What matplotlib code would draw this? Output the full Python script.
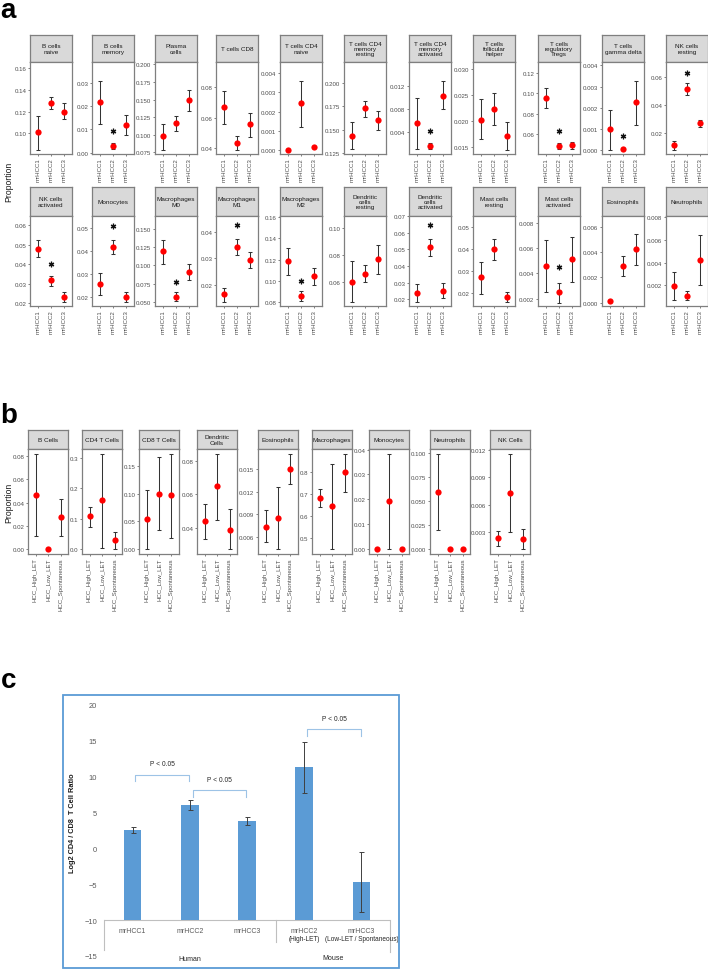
import numpy as np
import matplotlib
matplotlib.use('Agg')
import matplotlib.pyplot as plt
from matplotlib.patches import Rectangle

plt.rcParams['font.family'] = ['Liberation Sans', 'DejaVu Sans']

# ---------------------------------------------------------------- data: panel a
a_groups = ['mrHCC1', 'mrHCC2', 'mrHCC3']
a_titles = ['B cells\nnaive', 'B cells\nmemory', 'Plasma\ncells', 'T cells CD8',
            'T cells CD4\nnaive', 'T cells CD4\nmemory\nresting',
            'T cells CD4\nmemory\nactivated', 'T cells\nfollicular\nhelper',
            'T cells\nregulatory\nTregs', 'T cells\ngamma delta', 'NK cells\nresting',
            'NK cells\nactivated', 'Monocytes', 'Macrophages\nM0', 'Macrophages\nM1',
            'Macrophages\nM2', 'Dendritic\ncells\nresting', 'Dendritic\ncells\nactivated',
            'Mast cells\nresting', 'Mast cells\nactivated', 'Eosinophils', 'Neutrophils']
a_mean = [[0.101, 0.128, 0.120], [0.0218, 0.0027, 0.0120], [0.0977, 0.116, 0.149],
          [0.0666, 0.0433, 0.0554], [0.0, 0.00243, 0.00014], [0.143, 0.1728, 0.160],
          [0.0055, 0.0015, 0.0103], [0.0203, 0.0224, 0.0172], [0.0948, 0.0485, 0.0488],
          [0.00098, 0.00006, 0.00225], [0.0111, 0.0518, 0.0267],
          [0.0479, 0.0317, 0.0233], [0.0258, 0.042, 0.0202], [0.119, 0.0577, 0.091],
          [0.0163, 0.0343, 0.0292], [0.1185, 0.0855, 0.1045], [0.060, 0.066, 0.0767],
          [0.024, 0.0514, 0.0252], [0.027, 0.0397, 0.0183], [0.00462, 0.0025, 0.00514],
          [0.0001, 0.00291, 0.0042], [0.00197, 0.00107, 0.00425]]
a_low = [[0.085, 0.122, 0.113], [0.0124, 0.0016, 0.0077], [0.079, 0.106, 0.134],
         [0.0554, 0.0387, 0.0475], [0.0, 0.0012, 0.00014], [0.129, 0.164, 0.149],
         [0.0009, 0.0009, 0.0079], [0.0166, 0.0193, 0.0145], [0.0852, 0.0452, 0.0452],
         [0.0, 0.00006, 0.0012], [0.0077, 0.0475, 0.0244],
         [0.0436, 0.0288, 0.0207], [0.0208, 0.0388, 0.018], [0.1015, 0.0514, 0.080],
         [0.0133, 0.0311, 0.0261], [0.105, 0.0805, 0.096], [0.045, 0.060, 0.066],
         [0.0182, 0.0458, 0.021], [0.0196, 0.035, 0.016], [0.00255, 0.00168, 0.00335],
         [0.0001, 0.00213, 0.00296], [0.00073, 0.00067, 0.002]]
a_high = [[0.116, 0.133, 0.128], [0.0309, 0.004, 0.0163], [0.115, 0.127, 0.164],
          [0.0774, 0.0477, 0.0631], [0.0, 0.0036, 0.00014], [0.158, 0.1808, 0.1696],
          [0.0099, 0.0020, 0.0129], [0.0242, 0.0255, 0.0198], [0.1046, 0.0511, 0.0518],
          [0.0019, 0.00006, 0.00326], [0.0142, 0.056, 0.0294],
          [0.0525, 0.034, 0.0258], [0.0306, 0.0449, 0.0225], [0.135, 0.0641, 0.1025],
          [0.0188, 0.0374, 0.0323], [0.131, 0.0905, 0.112], [0.075, 0.0724, 0.0874],
          [0.029, 0.0564, 0.0296], [0.0338, 0.0446, 0.0206], [0.00665, 0.00324, 0.0069],
          [0.0001, 0.00366, 0.00542], [0.00314, 0.00148, 0.00643]]
# significance star above mrHCC2 (None = no star)
a_star = [None, 0.0094, None, None, None, None, 0.0042, None, 0.0633, 0.00065, 0.063,
          0.040, 0.051, 0.078, 0.0424, 0.100, None, 0.0644, None, 0.00449, None, None]
a_ylim = [(0.081, 0.1655), (-0.0006, 0.039), (0.0727, 0.2033), (0.036, 0.0965),
          (-0.0002, 0.00457), (0.1236, 0.2228), (0.0001, 0.0162), (0.0137, 0.0314),
          (0.0403, 0.1305), (-0.00019, 0.00416), (0.0046, 0.0711),
          (0.0185, 0.0648), (0.0162, 0.0554), (0.045, 0.167), (0.0119, 0.0459),
          (0.0762, 0.161), (0.042, 0.1085), (0.016, 0.070), (0.0141, 0.0548),
          (0.00142, 0.00855), (-0.00026, 0.00683), (0.00017, 0.00813)]
a_yticks = [[0.10, 0.12, 0.14, 0.16], [0, 0.01, 0.02, 0.03],
            [0.075, 0.1, 0.125, 0.15, 0.175, 0.2], [0.04, 0.06, 0.08],
            [0, 0.001, 0.002, 0.003, 0.004], [0.125, 0.15, 0.175, 0.2],
            [0.004, 0.008, 0.012], [0.015, 0.02, 0.025, 0.03], [0.06, 0.08, 0.1, 0.12],
            [0, 0.001, 0.002, 0.003, 0.004], [0.02, 0.04, 0.06],
            [0.02, 0.03, 0.04, 0.05, 0.06], [0.02, 0.03, 0.04, 0.05],
            [0.05, 0.075, 0.1, 0.125, 0.15], [0.02, 0.03, 0.04],
            [0.08, 0.1, 0.12, 0.14, 0.16], [0.06, 0.08, 0.1],
            [0.02, 0.03, 0.04, 0.05, 0.06, 0.07], [0.02, 0.03, 0.04, 0.05],
            [0.002, 0.004, 0.006, 0.008], [0, 0.002, 0.004, 0.006],
            [0.002, 0.004, 0.006, 0.008]]

# ---------------------------------------------------------------- data: panel b
b_groups = ['HCC_High_LET', 'HCC_Low_LET', 'HCC_Spontaneous']
b_titles = ['B Cells', 'CD4 T Cells', 'CD8 T Cells', 'Dendritic\nCells', 'Eosinophils',
            'Macrophages', 'Monocytes', 'Neutrophils', 'NK Cells']
b_mean = [[0.0466, 0.0, 0.0277], [0.109, 0.160, 0.030], [0.054, 0.100, 0.0971],
          [0.0438, 0.065, 0.0388], [0.0073, 0.0085, 0.0151], [0.68, 0.644, 0.796],
          [0.0, 0.0193, 0.0], [0.059, 0.0, 0.0], [0.0023, 0.0073, 0.0022]]
b_low = [[0.0114, 0.0, 0.0114], [0.074, 0.0055, 0.0], [0.0, 0.0355, 0.0203],
         [0.0334, 0.0449, 0.027], [0.0053, 0.0043, 0.0131], [0.642, 0.45, 0.709],
         [0.0, 0.0, 0.0], [0.0196, 0.0, 0.0], [0.0015, 0.0030, 0.0011]]
b_high = [[0.082, 0.0, 0.0435], [0.139, 0.313, 0.0566], [0.1067, 0.166, 0.172],
          [0.0543, 0.0845, 0.051], [0.0095, 0.0126, 0.0171], [0.723, 0.836, 0.88],
          [0.0, 0.0383, 0.0], [0.0987, 0.0, 0.0], [0.0031, 0.0116, 0.0033]]
b_yticks = [[0, 0.02, 0.04, 0.06, 0.08], [0, 0.1, 0.2, 0.3], [0, 0.05, 0.1, 0.15],
            [0.04, 0.06, 0.08], [0.006, 0.009, 0.012, 0.015], [0.5, 0.6, 0.7, 0.8],
            [0, 0.01, 0.02, 0.03, 0.04], [0, 0.025, 0.05, 0.075, 0.1],
            [0.003, 0.006, 0.009, 0.012]]

# ---------------------------------------------------------------- data: panel c
c_labels = ['mrHCC1', 'mrHCC2', 'mrHCC3', 'mrHCC2', 'mrHCC3']
c_sublabels = ['', '', '', '(High-LET)', '(Low-LET / Spontaneous)']
c_species = ['Human', 'Mouse']
c_values = [2.6, 6.05, 3.85, 11.3, -4.65]
c_err = [0.45, 0.7, 0.6, 3.6, 4.2]
c_pvals = [(1, 2, 10.3), (2, 3, 8.1), (4, 5, 16.6)]   # (from, to, bracket height)

# ---------------------------------------------------------------- layout helpers
W, H = 708, 970
fig = plt.figure(figsize=(W / 100, H / 100), dpi=100)

GREY = '#4D4D4D'


def box(x, y, w, h):
    # pixel box measured from the top-left corner -> figure fraction
    return [x / W, 1 - (y + h) / H, w / W, h / H]


def fmt_ticks(ticks):
    for d in range(0, 6):
        if all(abs(round(t, d) - t) < 1e-9 for t in ticks):
            break
    return ['{:.{}f}'.format(t, d) for t in ticks]


def facet(left, top, width, strip_h, panel_h, title, mean, low, high, ylim, yticks,
          xlabels, star=None):
    sax = fig.add_axes(box(left, top, width, strip_h))
    sax.set_facecolor('#D9D9D9')
    sax.set_xticks([])
    sax.set_yticks([])
    for s in sax.spines.values():
        s.set_color('#7F7F7F')
        s.set_linewidth(0.9)
    sax.text(0.5, 0.5, title, ha='center', va='center', fontsize=4.6, color='#1A1A1A',
             transform=sax.transAxes, linespacing=1.1)

    ax = fig.add_axes(box(left, top + strip_h, width, panel_h))
    x = np.arange(1, 4)
    mean = np.array(mean)
    yerr = [mean - np.array(low), np.array(high) - mean]
    ax.errorbar(x, mean, yerr=yerr, fmt='none', ecolor='#333333', elinewidth=0.75,
                capsize=1.4, capthick=0.75, zorder=2)
    ax.plot(x, mean, 'o', color='#FF0000', ms=4.5, mec='none', zorder=3)
    if star is not None:
        ax.plot(2, star, marker=(6, 2, 0), color='#111111', ms=4, mew=0.9, zorder=3)
    ax.set_xlim(0.4, 3.6)
    ax.set_ylim(*ylim)
    ax.set_xticks(x)
    ax.set_xticklabels(xlabels, rotation=90)
    ax.set_yticks(yticks)
    ax.set_yticklabels(fmt_ticks(yticks))
    ax.tick_params(axis='both', length=1.6, width=0.5, color=GREY, labelsize=4.4,
                   labelcolor=GREY, pad=1)
    for s in ax.spines.values():
        s.set_color('#7F7F7F')
        s.set_linewidth(0.9)
    return ax


# ---------------------------------------------------------------- panel a
a_left = [30, 92, 155, 216, 280, 344, 409, 473, 538, 602, 666]
for i in range(len(a_titles)):
    row, col = divmod(i, 11)
    if row == 0:
        top, sh, ph = 36, 27, 92
    else:
        top, sh, ph = 188, 29, 90
    facet(a_left[col], top, 42, sh, ph, a_titles[i], a_mean[i], a_low[i], a_high[i],
          a_ylim[i], a_yticks[i], a_groups, a_star[i])

fig.text(9 / W, 1 - 182 / H, 'Proportion', rotation=90, ha='center', va='center',
         fontsize=6.2, color='#1A1A1A')
fig.text(0, 1 - 18 / H, 'a', fontsize=20, fontweight='bold', ha='left', va='baseline')

# ---------------------------------------------------------------- panel b
b_left = [28, 82, 139, 197, 258, 312, 369, 430, 490]
for i in range(len(b_titles)):
    lo, hi = min(b_low[i]), max(b_high[i])
    pad = (hi - lo) * 0.05
    facet(b_left[i], 431, 40, 19, 105, b_titles[i], b_mean[i], b_low[i], b_high[i],
          (lo - pad, hi + pad), b_yticks[i], b_groups)

fig.text(9 / W, 1 - 503 / H, 'Proportion', rotation=90, ha='center', va='center',
         fontsize=6.2, color='#1A1A1A')
fig.text(0, 1 - 423 / H, 'b', fontsize=20, fontweight='bold', ha='left', va='baseline')

# ---------------------------------------------------------------- panel c
fig.text(1 / W, 1 - 688 / H, 'c', fontsize=20, fontweight='bold', ha='left', va='baseline')
fig.add_artist(Rectangle((63 / W, 1 - 969 / H), 336 / W, 273 / H, transform=fig.transFigure,
                         fill=False, ec='#5B9BD5', lw=1.3))

ax = fig.add_axes(box(104, 706, 286, 251))
xc = np.arange(1, len(c_values) + 1)
base = -10
ax.bar(xc, np.array(c_values) - base, bottom=base, width=0.31, color='#5B9BD5', zorder=2)
ax.errorbar(xc, c_values, yerr=c_err, fmt='none', ecolor='#404040', elinewidth=0.7,
            capsize=1.8, capthick=0.7, zorder=3)
ax.set_xlim(0.5, 5.5)
ax.set_ylim(-15, 20)
ax.set_yticks(np.arange(-15, 21, 5))
ax.set_xticks([])
ax.tick_params(axis='y', length=0, labelsize=5.4, labelcolor='#595959', pad=5)
for s in ax.spines.values():
    s.set_visible(False)
ax.axhline(base, color='#BFBFBF', lw=0.8, zorder=1)
for xs, ybot in [(0.5, -14.1), (3.5, -13.0), (5.5, -14.5)]:
    ax.plot([xs, xs], [base, ybot], color='#BFBFBF', lw=0.8, clip_on=False)

for i, lab in enumerate(c_labels):
    ax.text(xc[i], -11.4, lab, ha='center', va='center', fontsize=5, color='#595959')
    if c_sublabels[i]:
        ax.text(xc[i], -12.6, c_sublabels[i], ha='center', va='center', fontsize=4.7,
                color='#262626')
ax.text(2, -15.3, c_species[0], ha='center', va='center', fontsize=5, color='#262626')
ax.text(4.5, -15.2, c_species[1], ha='center', va='center', fontsize=5, color='#262626')

for x0, x1, yb in c_pvals:
    ax.plot([x0 + 0.05, x0 + 0.05, x1 - 0.01, x1 - 0.01], [yb - 0.9, yb, yb, yb - 0.9],
            color='#9DC3E6', lw=0.8, zorder=4)
    ax.text((x0 + x1) / 2 + 0.02, yb + 1.5, 'P < 0.05', ha='center', va='center',
            fontsize=4.8, color='#262626')

fig.text(72 / W, 1 - 823 / H, 'Log2 CD4 / CD8  T Cell Ratio', rotation=90, ha='center',
         va='center', fontsize=5.3, fontweight='bold', color='#1A1A1A')

fig.savefig('out.png', dpi=100)
